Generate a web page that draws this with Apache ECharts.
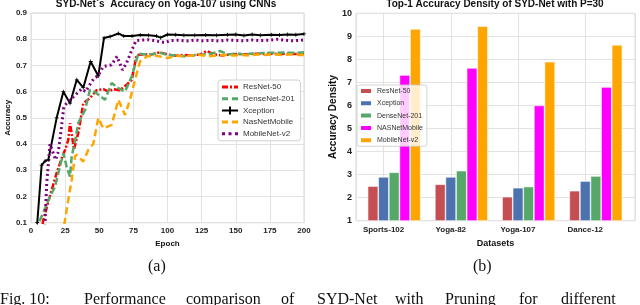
<!DOCTYPE html>
<html><head><meta charset="utf-8">
<script src="https://cdn.jsdelivr.net/npm/echarts@6/dist/echarts.min.js"></script>
<style>html,body{margin:0;padding:0;background:#fff}#c{width:640px;height:305px}</style>
</head><body><div id="c"></div>
<script>
// ---- line chart data: [epoch, accuracy] ----
const resnetLine = [[7,0.05],[9,0.11],[12.7,0.18],[15.2,0.225],[18.8,0.29],[22.5,0.346],[25,0.378],[27.3,0.416],[28.6,0.48],[31.5,0.38],[33.5,0.42],[35,0.45],[38.3,0.556],[43.2,0.575],[48,0.605],[53,0.61],[57,0.6],[60,0.61],[65,0.605],[70,0.626],[73.8,0.645],[77.4,0.74],[82,0.742],[88,0.742],[94.5,0.75],[100,0.742],[106,0.737],[112,0.74],[118,0.738],[124,0.742],[128.7,0.755],[134,0.742],[140,0.738],[146,0.742],[152,0.744],[158,0.742],[164,0.745],[170,0.744],[176,0.745],[182,0.743],[188,0.745],[194,0.744],[200,0.745]];
const densenetLine = [[4,0.03],[6.6,0.11],[10.3,0.155],[13.9,0.2],[17.6,0.237],[21.2,0.314],[23.7,0.365],[26.1,0.314],[28.6,0.276],[29.8,0.352],[32.2,0.41],[34.6,0.48],[39.6,0.53],[43.2,0.607],[48,0.594],[54.2,0.569],[59.1,0.633],[64,0.613],[68.9,0.6],[73.8,0.658],[78.6,0.745],[84,0.742],[90,0.744],[95,0.748],[100,0.74],[106,0.738],[114,0.735],[120,0.74],[126,0.742],[132,0.745],[138.5,0.755],[144,0.742],[150,0.745],[156,0.742],[162,0.745],[168,0.746],[174,0.748],[180,0.748],[186,0.749],[192,0.748],[200,0.75]];
const xceptionLine = [[2,0.02],[4.6,0.1],[7.8,0.32],[10.3,0.335],[12.7,0.34],[18.8,0.5],[23.7,0.6],[28.6,0.556],[33.5,0.645],[38.3,0.615],[43.7,0.715],[49.3,0.66],[53.5,0.805],[58,0.81],[64,0.822],[68,0.812],[74,0.812],[80,0.816],[86,0.815],[92,0.812],[95,0.806],[100,0.818],[106,0.817],[112,0.815],[120,0.815],[128,0.816],[136,0.815],[144,0.817],[150,0.818],[156,0.814],[162,0.818],[168,0.815],[176,0.817],[182,0.816],[188,0.818],[194,0.817],[200,0.82]];
const nasnetLine = [[23,0.05],[24.9,0.11],[27.3,0.187],[29.8,0.263],[32.2,0.352],[33.5,0.36],[38.3,0.333],[42,0.378],[45.6,0.4],[49.3,0.5],[53,0.46],[59.1,0.473],[64,0.569],[68.9,0.511],[72.5,0.569],[76.2,0.645],[79.9,0.715],[84.8,0.734],[90,0.738],[96,0.733],[100,0.728],[106,0.737],[112,0.735],[118,0.738],[124,0.74],[130,0.735],[136,0.738],[142,0.74],[148,0.738],[154,0.74],[160,0.738],[166,0.742],[172,0.74],[178,0.742],[184,0.74],[190,0.742],[196,0.74],[200,0.74]];
const mobilenetLine = [[9,0.05],[10.3,0.1],[11.5,0.25],[13.9,0.4],[16,0.37],[18,0.34],[20,0.37],[22,0.45],[24,0.54],[26,0.555],[29,0.57],[33,0.59],[37,0.61],[40,0.6],[43,0.626],[46,0.65],[49,0.66],[53,0.696],[57,0.7],[59,0.702],[63,0.734],[67,0.683],[70,0.709],[74,0.76],[77,0.795],[82,0.797],[86,0.798],[90,0.795],[95,0.79],[98,0.787],[102,0.795],[108,0.796],[114,0.793],[120,0.797],[126,0.794],[132,0.796],[138,0.793],[144,0.797],[150,0.795],[156,0.794],[162,0.797],[168,0.795],[174,0.796],[180,0.8],[186,0.796],[192,0.794],[200,0.797]];
const lineNames = ['ResNet-50','DenseNet-201','Xception','NasNetMobile','MobileNet-v2'];

// ---- bar chart data ----
const categories = ['Sports-102','Yoga-82','Yoga-107','Dance-12'];
const barNames = ['ResNet-50','Xception','DenseNet-201','NASNetMobile','MobileNet-v2'];
const barResNet = [2.5, 2.58, 2.04, 2.3];
const barXception = [2.9, 2.9, 2.43, 2.72];
const barDenseNet = [3.1, 3.17, 2.48, 2.94];
const barNASNet = [7.32, 7.63, 6.0, 6.8];
const barMobileNet = [9.32, 9.44, 7.9, 8.63];

const F = 'Liberation Sans, Arial, sans-serif';
const SERIF = '16px "Liberation Serif", "Times New Roman", serif';
const chart = echarts.init(document.getElementById('c'), null, {renderer:'canvas'});
const gridLine = {show:true, lineStyle:{color:'#e2e2e2', width:1}};
const plus = 'path://M4,0h2v4h4v2h-4v4h-2v-4h-4v-2h4z';
const BP = '#b ';

const lineIcons = {
  'ResNet-50':'path://M0,0h6v3h-6zM8,0h2v3h-2zM12,0h4v3h-4z',
  'DenseNet-201':'path://M0,0h6v3h-6zM10,0h6v3h-6z',
  'Xception':'path://M0,4h16v2h-16zM7,1h2v8h-2z',
  'NasNetMobile':'path://M0,0h6v3h-6zM10,0h6v3h-6z',
  'MobileNet-v2':'path://M0,0h3v3h-3zM6.5,0h3v3h-3zM13,0h3v3h-3z'
};

function lineSeries(name, data, color, type, width, extra) {
  return Object.assign({
    type:'line', name, data, xAxisIndex:0, yAxisIndex:0,
    showSymbol:false, symbol:'none', smooth:false, clip:true,
    lineStyle:{color, type, width}, itemStyle:{color}
  }, extra||{});
}
function barSeries(name, vals, color) {
  return {type:'bar', name: BP+name, xAxisIndex:1, yAxisIndex:1, barWidth:10.6, barGap:'0%',
    data: vals.map((v,i)=>[i,v]),
    itemStyle:{color, borderColor:'#fff', borderWidth:0.6}};
}
function dummyBar(name){ return {type:'bar', name, xAxisIndex:1, yAxisIndex:1, barWidth:10.6, barGap:'0%', data:[], silent:true}; }

const caption = [['Fig. 10:',0],['Performance',84],['comparison',186],['of',281],['SYD-Net',317],['with',395],['Pruning',445],['for',519],['different',561]];

chart.setOption({
  animation:false,
  title:[
    {text:'SYD-Net`s  Accuracy on Yoga-107 using CNNs', left:166, top:-1, textAlign:'center', padding:0,
      textStyle:{fontFamily:F, fontWeight:'bold', fontSize:10, color:'#111'}},
    {text:'Top-1 Accuracy Density of SYD-Net with P=30', left:495, top:-1, textAlign:'center', padding:0,
      textStyle:{fontFamily:F, fontWeight:'bold', fontSize:10, color:'#111'}}
  ],
  grid:[
    {left:31, right:336, top:13, bottom:82.3, show:true, borderColor:'#d6d6d6', borderWidth:1, containLabel:false},
    {left:356, right:5, top:13.3, bottom:84.3, show:true, borderColor:'#d6d6d6', borderWidth:1, containLabel:false}
  ],
  legend:[
    {data:lineNames.map(n=>({name:n, icon:lineIcons[n]})), orient:'vertical', left:218, top:80, padding:[3,6,3,4], itemGap:3.7, itemWidth:16, itemHeight:10,
      backgroundColor:'#fff', borderColor:'#d0d0d0', borderWidth:1, borderRadius:3,
      textStyle:{fontFamily:F, fontSize:8, color:'#333'}},
    {data:barNames.map(n=>BP+n), formatter:n=>n.replace(BP,''), orient:'vertical', left:357, top:85, padding:[2,4,2,2], itemGap:4.3, itemWidth:12, itemHeight:6, icon:'rect',
      backgroundColor:'rgba(255,255,255,0.8)', borderColor:'rgba(200,200,200,0.8)', borderWidth:1, borderRadius:2,
      textStyle:{fontFamily:F, fontSize:7, color:'#333', lineHeight:7.5}}
  ],
  xAxis:[
    {type:'value', gridIndex:0, min:0, max:200, interval:25,
      name:'Epoch', nameLocation:'middle', nameGap:12,
      nameTextStyle:{fontFamily:F, fontWeight:'bold', fontSize:8, color:'#111'},
      axisLine:{show:false}, axisTick:{show:false}, splitLine:gridLine,
      axisLabel:{fontFamily:F, fontWeight:'bold', fontSize:8, color:'#222', margin:4}},
    {type:'value', gridIndex:1, min:-0.41, max:3.74, splitNumber:4,
      name:'Datasets', nameLocation:'middle', nameGap:15,
      nameTextStyle:{fontFamily:F, fontWeight:'bold', fontSize:9, color:'#111'},
      axisLine:{show:false}, axisTick:{show:false}, splitLine:gridLine,
      axisLabel:{fontFamily:F, fontWeight:'bold', fontSize:8, color:'#222', margin:5, showMinLabel:false, showMaxLabel:false,
        formatter:v=> (Math.abs(v-Math.round(v))<1e-6 && categories[Math.round(v)]) ? categories[Math.round(v)] : ''}}
  ],
  yAxis:[
    {type:'value', gridIndex:0, min:0.1, max:0.9, interval:0.1,
      name:'Accuracy', nameLocation:'middle', nameGap:17,
      nameTextStyle:{fontFamily:F, fontWeight:'bold', fontSize:8, color:'#111'},
      axisLine:{show:false}, axisTick:{show:false}, splitLine:gridLine,
      axisLabel:{fontFamily:F, fontWeight:'bold', fontSize:8, color:'#222', margin:4, formatter:v=>v.toFixed(1)}},
    {type:'value', gridIndex:1, min:1, max:10, interval:1,
      name:'Accuracy Density', nameLocation:'middle', nameGap:14,
      nameTextStyle:{fontFamily:F, fontWeight:'bold', fontSize:10, color:'#111'},
      axisLine:{show:false}, axisTick:{show:false}, splitLine:{show:true, lineStyle:{color:'#e2e2e2', width:1.2}},
      axisLabel:{fontFamily:F, fontWeight:'bold', fontSize:9, color:'#222', margin:4}}
  ],
  series:[
    lineSeries('ResNet-50', resnetLine, '#ff0000', [6,2,2,2], 2.5),
    lineSeries('DenseNet-201', densenetLine, '#55a868', [7,3], 2.5),
    lineSeries('Xception', xceptionLine, '#000000', 'solid', 2, {symbol:plus, showSymbol:true, symbolSize:4}),
    lineSeries('NasNetMobile', nasnetLine, '#ffa500', [7,4], 2.5),
    lineSeries('MobileNet-v2', mobilenetLine, '#800080', [2,3], 3),
    dummyBar('_d1'), dummyBar('_d2'),
    barSeries('ResNet-50', barResNet, '#c44e52'),
    barSeries('Xception', barXception, '#4c72b0'),
    barSeries('DenseNet-201', barDenseNet, '#55a868'),
    barSeries('NASNetMobile', barNASNet, '#ff00ff'),
    barSeries('MobileNet-v2', barMobileNet, '#ffa500')
  ],
  graphic:[
    {type:'text', left:148, top:259, style:{text:'(a)', font:SERIF, fill:'#111'}},
    {type:'text', left:473, top:259, style:{text:'(b)', font:SERIF, fill:'#111'}}
  ].concat(caption.map(([t,x])=>({type:'text', left:x, top:292, style:{text:t, font:SERIF, fill:'#111'}})))
});
</script></body></html>
